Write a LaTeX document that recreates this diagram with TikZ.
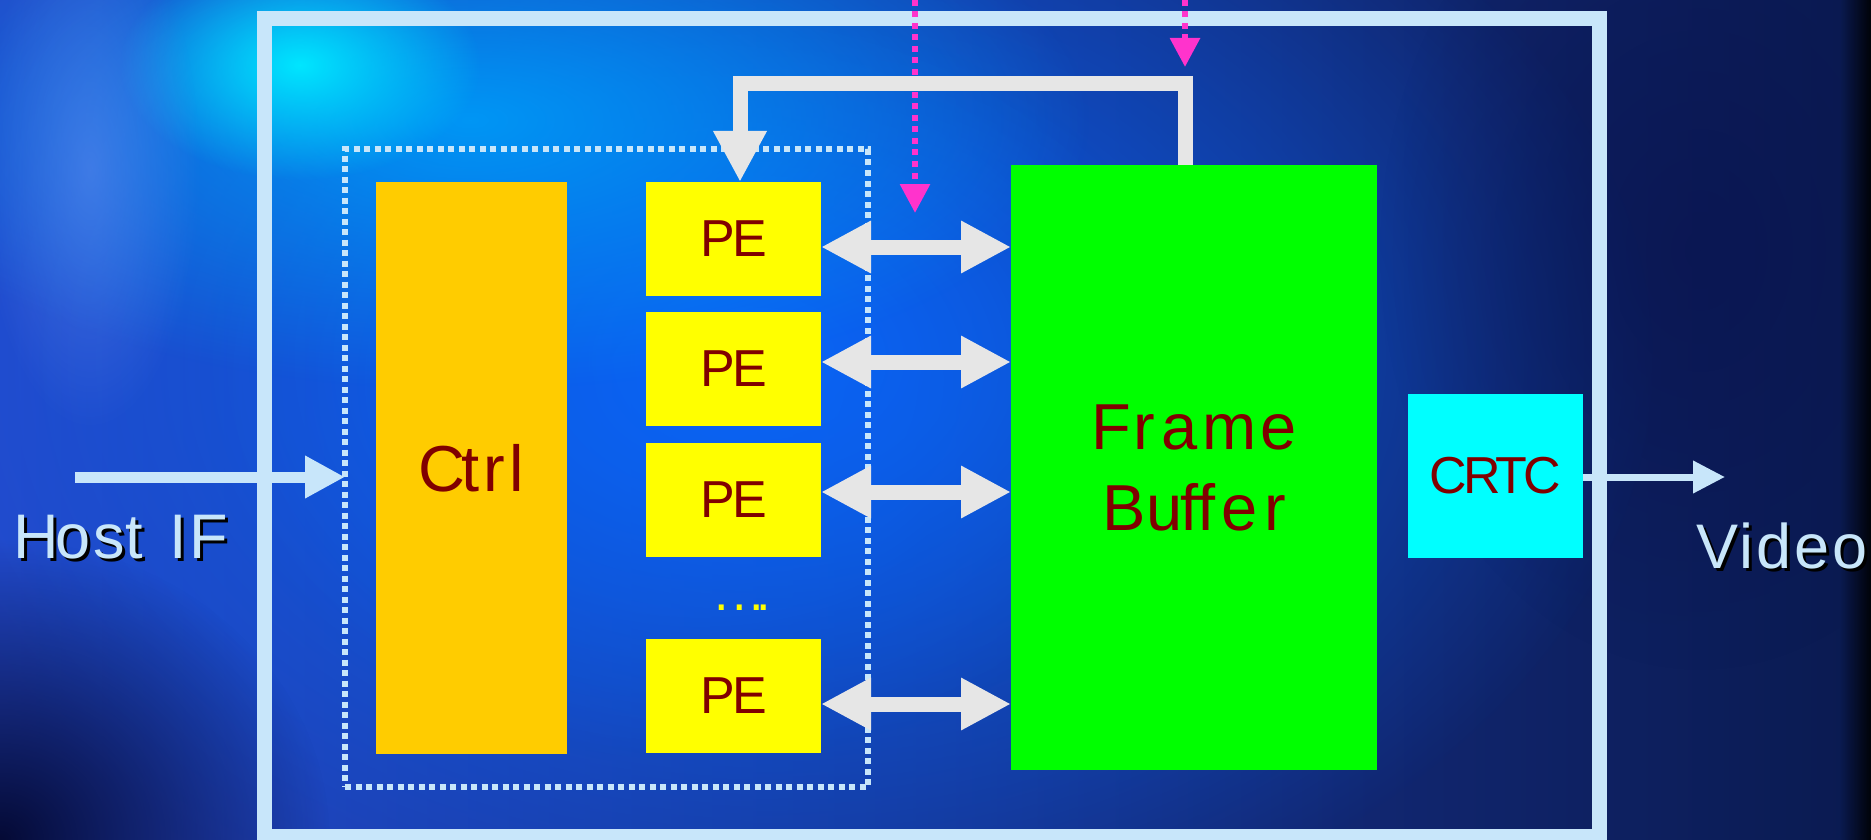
\documentclass[tikz,border=0pt]{standalone}
\usepackage{fontspec}
\setmainfont{Liberation Sans}
\usetikzlibrary{arrows.meta,fadings,calc}
\definecolor{lblue}{HTML}{C8E6FA}
\definecolor{agray}{HTML}{E6E6E6}
\definecolor{mpink}{HTML}{FF33CC}
\definecolor{dred}{HTML}{800000}
\definecolor{ctrlor}{HTML}{FFCC00}
\definecolor{peyel}{HTML}{FFFF00}
\definecolor{fbgreen}{HTML}{00FF00}
\definecolor{crtccy}{HTML}{00FFFF}
\definecolor{bgA}{HTML}{2448C8}
\definecolor{bgB}{HTML}{0A40C8}
\definecolor{bgC}{HTML}{0A1A50}
\definecolor{glowA}{HTML}{0A64F5}
\definecolor{glowB}{HTML}{0096F5}
\definecolor{glowC}{HTML}{00E6FF}
\definecolor{glowD}{HTML}{6A90F2}
\definecolor{darkA}{HTML}{050A35}
\definecolor{darkB}{HTML}{0A1450}
\tikzfading[name=glow, inner color=transparent!0, outer color=transparent!100]
\newcommand\shadowtxt[1]{\rlap{\kern3pt\raisebox{-3pt}{\color{black}#1}}#1}
\begin{document}
\begin{tikzpicture}[x=1pt,y=-1pt,
  box/.style={draw=none, inner sep=0pt, outer sep=0pt, text=dred},
  pebox/.style={box, fill=peyel, minimum width=175pt, minimum height=114pt,
    font=\fontsize{52}{60}\selectfont},
  dblarrow/.style={draw=agray, line width=15pt,
    {Triangle[length=50pt,width=49pt]}-{Triangle[length=50pt,width=49pt]}},
  pinkdot/.style={draw=mpink, line width=6pt, dash pattern=on 6pt off 5.5pt,
    -{Triangle[length=29pt,width=29pt]}},
  lbl/.style={anchor=base west, inner sep=0pt, text=lblue,
    font=\fontsize{63}{70}\selectfont}
]
\useasboundingbox (0,0) rectangle (1871,840);
% ---------- background ----------
\shade[left color=bgA, middle color=bgB, right color=bgC] (0,0) rectangle (1871,840);
\fill[glowA, path fading=glow] (760,360) ellipse [x radius=900, y radius=620];
\fill[glowA, path fading=glow, opacity=0.7] (700,380) ellipse [x radius=500, y radius=380];
\fill[glowB, path fading=glow] (470,120) ellipse [x radius=620, y radius=270];
\fill[glowC, path fading=glow] (300,65) ellipse [x radius=180, y radius=115];
\fill[glowD, path fading=glow, opacity=0.5] (90,170) ellipse [x radius=110, y radius=260];
\fill[darkA, path fading=glow] (0,840) ellipse [x radius=330, y radius=300];
\fill[darkB, path fading=glow, opacity=0.7] (1700,250) ellipse [x radius=320, y radius=420];
\shade[left color=bgC, right color=black, opacity=0.9] (1840,0) rectangle (1871,840);
% ---------- frame and group ----------
\node[draw=lblue, line width=15pt, inner sep=0pt, outer sep=0pt,
  minimum width=1335.5pt, minimum height=818pt] (frame) at (931.75,427.5) {};
\node[draw=lblue, line width=6pt, dash pattern=on 6pt off 4.5pt, inner sep=0pt,
  outer sep=0pt, minimum width=523pt, minimum height=638pt] (group) at (606.5,468) {};
% ---------- blocks ----------
\node[box, fill=ctrlor, minimum width=191pt, minimum height=572pt,
  font=\fontsize{65}{78}\selectfont] (ctrl) at (471.5,468) {C\kern-4pt t\kern4pt r\kern4pt l};
\node[pebox] (pe1) at (733.5,239) {P\kern-3pt E};
\node[pebox] (pe2) at (733.5,368.5) {P\kern-3pt E};
\node[pebox] (pe3) at (733.5,500) {P\kern-3pt E};
\node[pebox] (pe4) at (733.5,696) {P\kern-3pt E};
\node[inner sep=0pt, text=peyel, font=\fontsize{52}{60}\selectfont, anchor=base] (dots) at (743,610)
  {.\kern3pt.\kern3pt.\kern-7.5pt.};
\node[box, fill=fbgreen, minimum width=366pt, minimum height=605pt, align=center,
  font=\fontsize{65}{81}\selectfont] (fb) at (1194,467.5)
  {F\kern2pt r\kern7pt a\kern4pt m\kern4pt e\\B\kern1pt u\kern-2pt f\kern-1pt f\kern6pt e\kern6pt r};
\node[box, fill=crtccy, minimum width=175pt, minimum height=164pt,
  font=\fontsize{52}{60}\selectfont] (crtc) at (1495.5,476) {C\kern-4pt R\kern-5pt T\kern-4pt C};
% ---------- labels ----------
\node[lbl] (host) at (13,558) {\shadowtxt{H\kern-3pt o\kern3pt st\ \kern9pt I\kern3pt F}};
\node[lbl] (video) at (1696,568) {\shadowtxt{V\kern1pt i\kern3pt d\kern3pt e\kern3pt o}};
% ---------- pink dotted inputs ----------
\coordinate (p1s) at (915,0);
\coordinate (p1e) at (915,213);
\coordinate (p2s) at (1185,0);
\coordinate (p2e) at (1185,67);
\draw[pinkdot] (p1s) -- (p1e);
\draw[pinkdot] (p2s) -- (p2e);
% ---------- feedback connector ----------
\draw[draw=agray, line width=15pt, line join=miter,
  -{Triangle[length=51pt,width=50pt]}]
  ([xshift=-9pt]fb.north) -- ++(0,-81.5) -| ([xshift=6.5pt]pe1.north);
% ---------- PE <-> frame buffer ----------
\draw[dblarrow] ($(pe1.east)+(0,8)$) -- ($(pe1.east -| fb.west)+(0,8)$);
\draw[dblarrow] ($(pe2.east)+(0,-6.5)$) -- ($(pe2.east -| fb.west)+(0,-6.5)$);
\draw[dblarrow] ($(pe3.east)+(0,-8)$) -- ($(pe3.east -| fb.west)+(0,-8)$);
\draw[dblarrow] ($(pe4.east)+(0,8)$) -- ($(pe4.east -| fb.west)+(0,8)$);
% ---------- host and video ----------
\coordinate (hin) at (75,477);
\draw[draw=lblue, line width=11pt, -{Triangle[length=40pt,width=40pt]}] (hin) -- (group.west |- hin);
\coordinate (vout) at (1725,477);
\draw[draw=lblue, line width=7pt, -{Triangle[length=32pt,width=31pt]}] (crtc.east |- vout) -- (vout);
\end{tikzpicture}
\end{document}
